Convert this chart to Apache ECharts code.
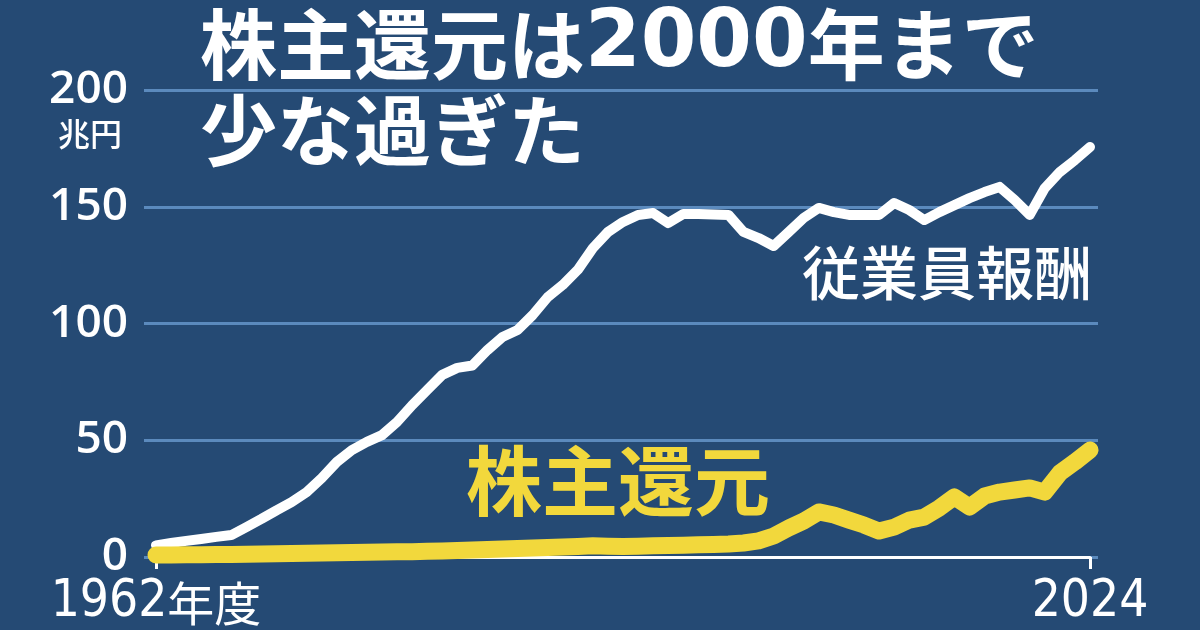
<!DOCTYPE html>
<html>
<head>
<meta charset="utf-8">
<script src="https://cdn.jsdelivr.net/npm/echarts@6/dist/echarts.min.js"></script>
<style>
html,body{margin:0;padding:0;background:#254a74;}
#c{width:1200px;height:630px;}
</style>
</head>
<body>
<div id="c"></div>
<script>
// Fiscal years 1962..2024
const years = [];
for (let y = 1962; y <= 2024; y++) years.push(String(y));

// 従業員報酬 (兆円)
const employeePay = [
  5.0, 6.0, 6.9, 7.7, 8.6, 9.4, 12.8, 16.3, 20.0, 23.5,
  27.8, 33.8, 40.7, 45.8, 49.3, 52.2, 57.8, 65.0, 71.5, 78.0,
  81.0, 82.0, 88.6, 94.2, 97.2, 103.6, 111.3, 116.5, 123.0, 132.3,
  139.2, 143.5, 146.5, 147.3, 143.0, 146.9, 146.9, 146.7, 146.5, 139.2,
  136.6, 133.2, 139.2, 145.2, 149.5, 147.7, 146.5, 146.5, 146.5, 151.6,
  148.6, 144.3, 147.7, 150.7, 153.7, 156.3, 158.5, 152.9, 146.5, 158.0,
  164.9, 170.0, 175.6
];

// 株主還元 (兆円)
const shareholderReturn = [
  0.9, 0.9, 1.0, 1.0, 1.1, 1.1, 1.2, 1.3, 1.4, 1.5,
  1.6, 1.7, 1.8, 1.9, 2.0, 2.1, 2.2, 2.3, 2.5, 2.6,
  2.8, 3.0, 3.2, 3.4, 3.6, 3.9, 4.1, 4.3, 4.5, 4.8,
  4.6, 4.5, 4.6, 4.8, 4.9, 5.0, 5.2, 5.4, 5.6, 6.0,
  6.9, 9.0, 12.4, 15.4, 19.3, 18.0, 15.8, 13.7, 11.1, 12.8,
  15.8, 17.1, 21.0, 25.7, 21.4, 26.1, 27.8, 28.7, 29.6, 27.8,
  36.0, 40.7, 45.8
];

const yTicks = [0, 50, 100, 150, 200];
const xLabelMap = { '1962': '{d|1962}{k|年度}', '2024': '{d|2024}' };

const chart = echarts.init(document.getElementById('c'), null, { renderer: 'canvas' });

const cjk = '"Noto Sans CJK JP", "Noto Sans", sans-serif';
const narrow = '"DejaVu Sans Condensed", "Noto Sans CJK JP", sans-serif';

chart.setOption({
  backgroundColor: '#254a74',
  animation: false,
  grid: [
    { left: 144, right: 102, top: 90, bottom: 73, containLabel: false, outerBoundsMode: 'none' },
    { left: 156, right: 110, top: 90, bottom: 73, containLabel: false, outerBoundsMode: 'none' }
  ],
  xAxis: [
    { gridIndex: 0, type: 'value', min: 0, max: 1, show: false },
    {
      gridIndex: 1, type: 'category', data: years, boundaryGap: false,
      axisLine: { show: true, lineStyle: { color: '#ffffff', width: 3 } },
      axisTick: {
        show: true, length: 12, lineStyle: { color: '#ffffff', width: 3 },
        interval: (idx, v) => v === '1962' || v === '2024'
      },
      axisLabel: {
        show: true, interval: (idx, v) => v === '1962' || v === '2024',
        formatter: v => xLabelMap[v] || '',
        color: '#ffffff', margin: 18,
        rich: {
          d: { fontSize: 51, fontFamily: narrow, color: '#ffffff', lineHeight: 56 },
          k: { fontSize: 47, fontFamily: cjk, color: '#ffffff', lineHeight: 56 }
        }
      },
      splitLine: { show: false }
    }
  ],
  yAxis: [
    {
      gridIndex: 0, type: 'value', min: 0, max: 200, interval: 50,
      axisLine: { show: false }, axisTick: { show: false },
      axisLabel: {
        color: '#ffffff', fontSize: 46, fontWeight: 600, margin: 16,
        fontFamily: '"Open Sans", "Noto Sans", sans-serif',
        formatter: v => yTicks.includes(v) ? String(v) : ''
      },
      splitLine: { show: true, lineStyle: { color: '#5b8abd', width: 3 } }
    },
    {
      gridIndex: 1, type: 'value', min: 0, max: 200, interval: 50, show: false
    }
  ],
  series: [
    {
      name: '従業員報酬', type: 'line', xAxisIndex: 1, yAxisIndex: 1,
      data: employeePay, showSymbol: false, symbol: 'none', z: 3,
      lineStyle: { color: '#ffffff', width: 10, cap: 'round', join: 'round' }
    },
    {
      name: '株主還元', type: 'line', xAxisIndex: 1, yAxisIndex: 1,
      data: shareholderReturn, showSymbol: false, symbol: 'none', z: 4,
      lineStyle: { color: '#f2d83c', width: 17, cap: 'round', join: 'round' }
    }
  ],
  graphic: [
    {
      type: 'text', left: 200, top: 5, z: 10,
      style: {
        text: '{c|株主還元は}{n|2000}{c|年まで}\n{c|少な過ぎた}',
        rich: {
          c: { fill: '#ffffff', font: 'bold 77px ' + cjk, lineHeight: 86 },
          n: { fill: '#ffffff', font: 'bold 80px "DejaVu Sans", ' + cjk, lineHeight: 86 }
        },
        fill: '#ffffff',
        shadowColor: 'rgba(0,0,0,0.55)', shadowBlur: 6, shadowOffsetX: 1, shadowOffsetY: 2
      }
    },
    {
      type: 'text', right: 1200 - 122, top: 118, z: 10,
      style: { text: '兆円', fill: '#ffffff', font: '500 32px ' + cjk }
    },
    {
      type: 'text', right: 1200 - 1092, top: 244, z: 10,
      style: { text: '従業員報酬', fill: '#ffffff', font: '500 58px ' + cjk }
    },
    {
      type: 'text', left: 466, top: 443, z: 10,
      style: { text: '株主還元', fill: '#f2d83c', font: 'bold 76px ' + cjk }
    }
  ]
});
</script>
</body>
</html>
